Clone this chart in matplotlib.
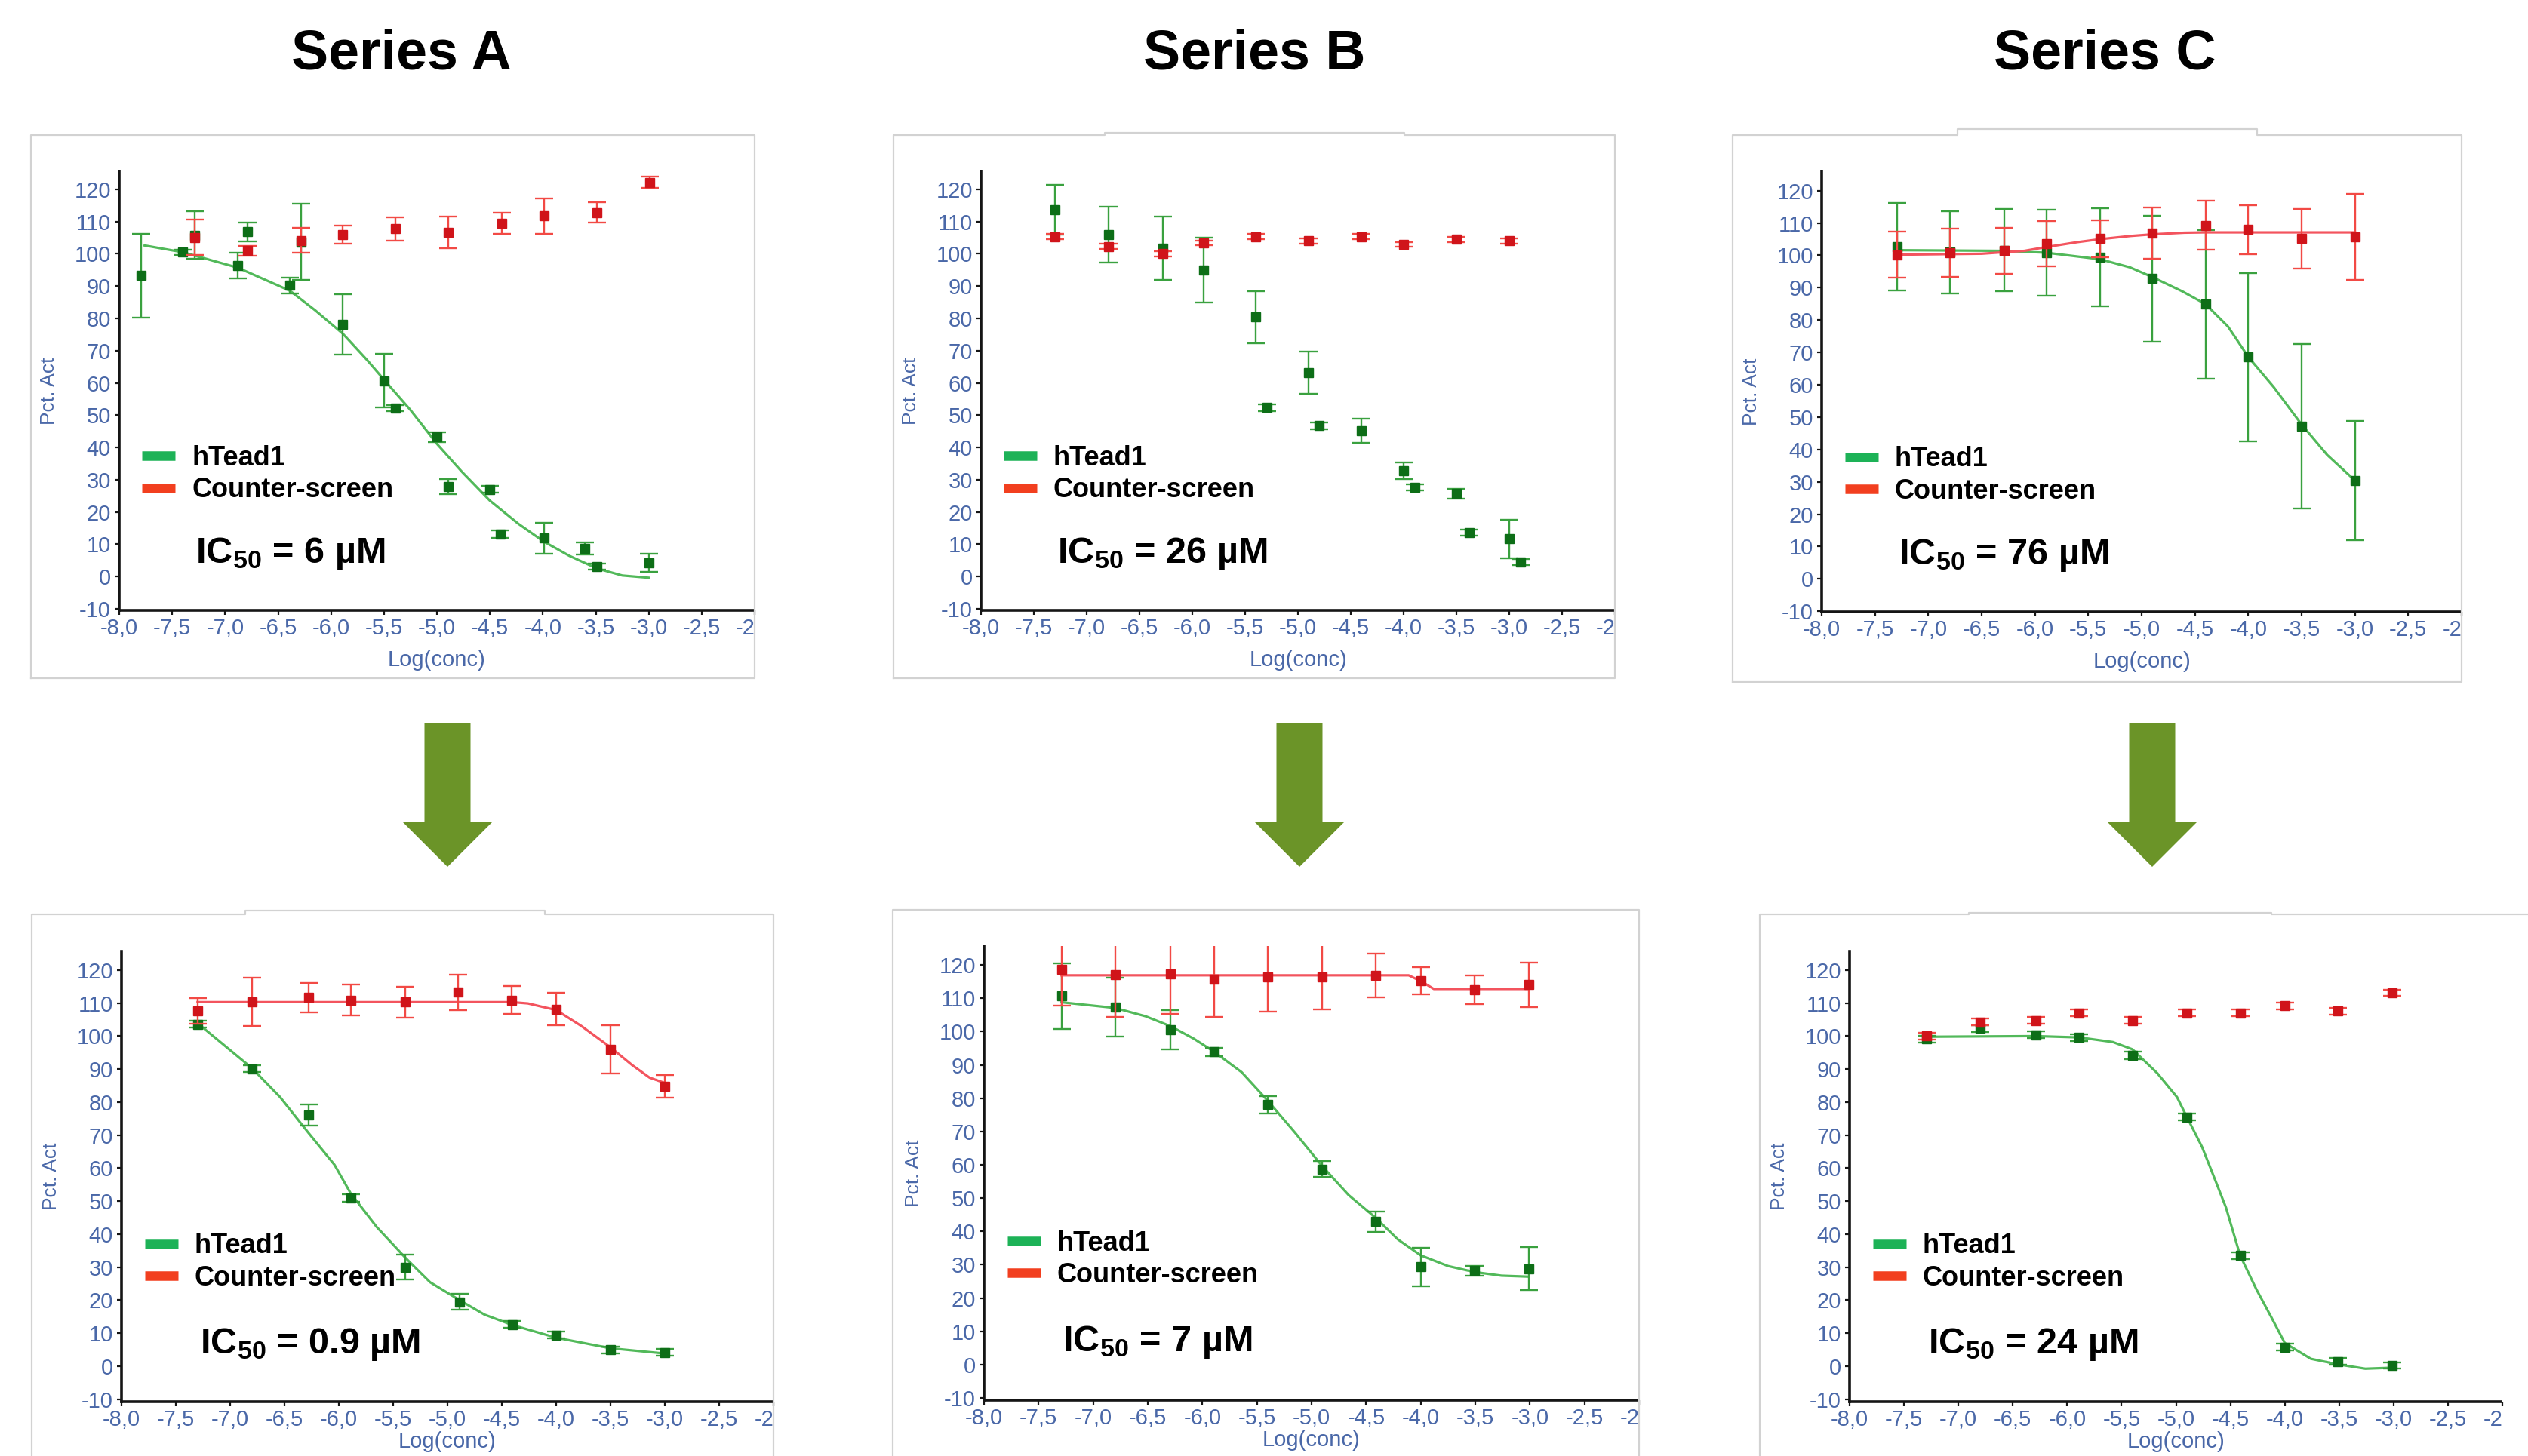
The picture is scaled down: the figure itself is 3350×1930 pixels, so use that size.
import matplotlib
matplotlib.use("Agg")
import matplotlib.pyplot as plt
from matplotlib.lines import Line2D
from matplotlib.patches import Polygon
from matplotlib.transforms import Bbox, TransformedBbox

# ---------------- data ----------------
SERIES_TITLES = ["Series A", "Series B", "Series C"]
LEGEND_LABELS = ["hTead1", "Counter-screen"]
IC50_LABELS = ["6 µM", "26 µM", "76 µM", "0.9 µM", "7 µM", "24 µM"]
X_LABEL = "Log(conc)"
Y_LABEL = "Pct. Act"
XTICKS = [-8.0, -7.5, -7.0, -6.5, -6.0, -5.5, -5.0, -4.5, -4.0, -3.5, -3.0, -2.5, -2.0]
XTICK_LABELS = ["-8,0", "-7,5", "-7,0", "-6,5", "-6,0", "-5,5", "-5,0", "-4,5",
                "-4,0", "-3,5", "-3,0", "-2,5", "-2,0"]
YTICKS = [-10, 0, 10, 20, 30, 40, 50, 60, 70, 80, 90, 100, 110, 120]

# Series A, before (top)
a1_g_x = [-7.79, -7.40, -7.29, -6.88, -6.79, -6.39, -6.28, -5.89, -5.50, -5.39,
          -5.00, -4.89, -4.50, -4.40, -3.99, -3.60, -3.49, -3.00]
a1_g_y = [93.3, 100.5, 105.8, 96.3, 106.8, 90.2, 103.7, 78.1, 60.7, 52.2,
          43.2, 27.9, 27.0, 13.2, 11.9, 8.6, 3.1, 4.2]
a1_g_e = [13.0, 0.8, 7.3, 4.0, 3.0, 2.4, 11.8, 9.3, 8.4, 1.0,
          1.5, 2.3, 1.0, 1.2, 4.8, 1.9, 1.0, 2.8]
a1_g_fit_x = [-7.76, -7.40, -6.88, -6.39, -6.15, -5.89, -5.66, -5.50, -5.25, -5.00,
              -4.76, -4.50, -4.23, -3.99, -3.75, -3.49, -3.25, -3.00]
a1_g_fit_y = [102.6, 100.5, 95.7, 88.6, 82.5, 75.3, 67.1, 61.0, 51.6, 41.1,
              32.3, 23.5, 16.3, 10.8, 6.4, 2.5, 0.3, -0.4]
a1_r_x = [-7.29, -6.79, -6.28, -5.89, -5.39, -4.89, -4.39, -3.99, -3.49, -2.99]
a1_r_y = [105.1, 101.0, 104.2, 106.0, 107.8, 106.7, 109.5, 111.7, 112.8, 122.2]
a1_r_e = [5.5, 1.5, 3.9, 2.8, 3.6, 4.9, 3.3, 5.4, 3.1, 1.8]

# Series B, before (top)
b1_g_x = [-7.30, -6.79, -6.28, -5.89, -5.40, -5.29, -4.90, -4.80, -4.40, -4.00,
          -3.89, -3.50, -3.38, -3.00, -2.89]
b1_g_y = [113.6, 105.9, 101.7, 95.0, 80.4, 52.3, 63.1, 46.7, 45.1, 32.7,
          27.6, 25.7, 13.6, 11.6, 4.5]
b1_g_e = [7.7, 8.7, 9.8, 10.1, 8.1, 1.0, 6.5, 1.0, 3.7, 2.6,
          1.0, 1.5, 1.0, 6.0, 1.0]
b1_r_x = [-7.30, -6.79, -6.28, -5.89, -5.40, -4.90, -4.40, -4.00, -3.50, -3.00]
b1_r_y = [105.3, 102.3, 100.0, 103.4, 105.3, 104.0, 105.3, 102.9, 104.5, 104.0]
b1_r_e = [0.8, 0.8, 0.8, 0.8, 0.8, 0.8, 0.8, 0.8, 0.8, 0.8]

# Series C, before (top)
c1_g_x = [-7.29, -6.80, -6.29, -5.89, -5.39, -4.90, -4.40, -4.00, -3.50, -3.00]
c1_g_y = [102.7, 101.0, 101.6, 100.8, 99.4, 92.8, 84.9, 68.6, 47.1, 30.4]
c1_g_e = [13.6, 12.7, 12.7, 13.2, 15.1, 19.5, 23.0, 26.0, 25.4, 18.5]
c1_g_fit_x = [-7.29, -6.29, -5.89, -5.39, -5.11, -4.90, -4.62, -4.40, -4.19, -4.00,
              -3.76, -3.50, -3.26, -3.00]
c1_g_fit_y = [101.6, 101.4, 100.8, 98.8, 96.3, 93.3, 88.9, 84.9, 78.0, 68.6,
              59.2, 47.7, 38.3, 30.4]
c1_r_x = [-7.29, -6.80, -6.29, -5.89, -5.39, -4.90, -4.40, -4.00, -3.50, -3.00]
c1_r_y = [100.2, 100.8, 101.4, 103.5, 105.2, 106.9, 109.3, 108.0, 105.2, 105.7]
c1_r_e = [7.1, 7.5, 7.2, 7.0, 5.7, 8.0, 7.6, 7.6, 9.2, 13.3]
c1_r_fit_x = [-7.29, -6.50, -6.10, -5.89, -5.60, -5.39, -5.10, -4.90, -4.60, -4.40, -3.00]
c1_r_fit_y = [100.2, 100.5, 101.4, 102.6, 104.1, 105.0, 106.0, 106.5, 107.0, 107.1, 107.1]

# Series A, after (bottom)
a2_g_x = [-7.30, -6.80, -6.28, -5.89, -5.39, -4.89, -4.40, -4.00, -3.50, -3.00]
a2_g_y = [103.6, 90.1, 76.1, 50.9, 30.0, 19.4, 12.6, 9.4, 4.9, 4.1]
a2_g_e = [1.0, 1.0, 3.2, 1.2, 3.8, 2.4, 1.0, 1.0, 1.0, 1.0]
a2_g_fit_x = [-7.30, -6.80, -6.54, -6.28, -6.04, -5.89, -5.65, -5.39, -5.16, -4.89,
              -4.66, -4.40, -4.00, -3.50, -3.00]
a2_g_fit_y = [103.9, 90.3, 81.5, 70.7, 61.0, 52.3, 42.1, 32.9, 25.4, 20.0,
              15.6, 12.4, 8.6, 5.4, 3.8]
a2_r_x = [-7.30, -6.80, -6.28, -5.89, -5.39, -4.90, -4.41, -4.00, -3.50, -3.00]
a2_r_y = [107.6, 110.4, 111.7, 110.9, 110.3, 113.3, 110.9, 108.2, 96.0, 84.7]
a2_r_e = [3.9, 7.3, 4.5, 4.7, 4.7, 5.4, 4.2, 4.9, 7.3, 3.4]
a2_r_fit_x = [-7.30, -4.41, -4.26, -4.00, -3.77, -3.50, -3.30, -3.14, -3.00]
a2_r_fit_y = [110.3, 110.3, 109.9, 107.9, 103.1, 96.6, 91.2, 87.4, 85.8]

# Series B, after (bottom)
b2_g_x = [-7.29, -6.80, -6.29, -5.89, -5.40, -4.90, -4.41, -4.00, -3.51, -3.01]
b2_g_y = [110.7, 107.3, 100.6, 93.9, 78.1, 58.7, 42.9, 29.3, 28.2, 28.8]
b2_g_e = [9.9, 8.8, 5.9, 1.2, 2.6, 2.4, 3.1, 5.8, 1.5, 6.4]
b2_g_fit_x = [-7.29, -6.80, -6.52, -6.29, -6.08, -5.89, -5.64, -5.40, -5.15, -4.90,
              -4.66, -4.41, -4.21, -4.00, -3.75, -3.51, -3.26, -3.01]
b2_g_fit_y = [108.8, 107.1, 104.6, 101.6, 97.9, 93.9, 87.8, 79.2, 69.6, 59.5,
              50.9, 44.0, 37.6, 32.8, 29.6, 27.8, 26.7, 26.4]
b2_r_x = [-7.29, -6.80, -6.29, -5.89, -5.40, -4.90, -4.41, -4.00, -3.51, -3.01]
b2_r_y = [118.7, 117.1, 117.4, 115.7, 116.4, 116.4, 116.9, 115.2, 112.5, 114.1]
b2_r_e = [11.0, 12.8, 12.0, 11.4, 10.5, 9.7, 6.5, 4.1, 4.3, 6.7]
b2_r_fit_x = [-7.29, -4.11, -3.99, -3.88, -3.01]
b2_r_fit_y = [116.9, 116.9, 115.0, 112.8, 112.8]

# Series C, after (bottom)
c2_g_x = [-7.29, -6.80, -6.29, -5.89, -5.40, -4.90, -4.41, -4.00, -3.51, -3.01]
c2_g_y = [99.1, 102.3, 100.4, 99.6, 94.2, 75.5, 33.5, 5.7, 1.4, 0.2]
c2_g_e = [1.0, 1.0, 1.0, 1.0, 1.2, 1.0, 1.0, 1.0, 1.0, 1.0]
c2_g_fit_x = [-7.29, -6.29, -5.89, -5.58, -5.40, -5.17, -4.99, -4.90, -4.76, -4.63,
              -4.54, -4.41, -4.26, -4.12, -4.00, -3.76, -3.51, -3.26, -3.01]
c2_g_fit_y = [99.8, 100.0, 99.6, 98.2, 96.0, 88.7, 81.5, 75.5, 66.4, 55.6,
              48.0, 33.5, 23.2, 14.6, 7.0, 2.2, 0.5, -0.8, -0.5]
c2_r_x = [-7.29, -6.80, -6.29, -5.89, -5.40, -4.90, -4.41, -4.00, -3.51, -3.01]
c2_r_y = [100.0, 104.3, 104.7, 107.0, 104.7, 107.0, 107.0, 109.2, 107.6, 113.1]
c2_r_e = [1.0, 1.0, 1.0, 1.0, 1.0, 1.0, 1.0, 1.0, 1.0, 1.0]

# ---------------- style ----------------
plt.rcParams["font.family"] = ["Liberation Sans", "DejaVu Sans"]
plt.rcParams["mathtext.fontset"] = "custom"
plt.rcParams["mathtext.rm"] = "Liberation Sans:bold"
plt.rcParams["mathtext.it"] = "Liberation Sans:bold"
plt.rcParams["mathtext.bf"] = "Liberation Sans:bold"

AX_BLUE = "#4a68a8"
MK_GREEN = "#0d6e17"
EB_GREEN = "#3aa13f"
FIT_GREEN = "#52b95a"
MK_RED = "#d0141a"
EB_RED = "#f24a45"
FIT_RED = "#f3545e"
LEG_GREEN = "#1db257"
LEG_RED = "#f23f1f"
BOX_GRAY = "#d2d2d2"
ARROW_GREEN = "#6b9428"

W, H = 3350, 1930
fig = plt.figure(figsize=(W / 100, H / 100), dpi=100)


def fx(px):
    return px / W


def fy(py):
    return 1 - py / H


# panels: (data, axes rect px [x0, x1, ytop, ybot], ylim, box outline px)
panels = [
    dict(g=(a1_g_x, a1_g_y, a1_g_e), gfit=(a1_g_fit_x, a1_g_fit_y),
         r=(a1_r_x, a1_r_y, a1_r_e), rfit=None, ic=IC50_LABELS[0],
         rect=(158, 1000, 227, 809), ylim=(-10.5, 125.6), xlab_off=-66,
         box=[(41, 899), (41, 179), (1000, 179), (1000, 899), (41, 899)],
         clip=(41, 179, 1000, 899)),
    dict(g=(b1_g_x, b1_g_y, b1_g_e), gfit=None,
         r=(b1_r_x, b1_r_y, b1_r_e), rfit=None, ic=IC50_LABELS[1],
         rect=(1300, 2140, 227, 809), ylim=(-10.5, 125.6), xlab_off=-66,
         box=[(1184, 899), (1184, 179), (1464, 179), (1464, 176), (1861, 176),
              (1861, 179), (2140, 179), (2140, 899), (1184, 899)],
         clip=(1184, 176, 2140, 899)),
    dict(g=(c1_g_x, c1_g_y, c1_g_e), gfit=(c1_g_fit_x, c1_g_fit_y),
         r=(c1_r_x, c1_r_y, c1_r_e), rfit=(c1_r_fit_x, c1_r_fit_y), ic=IC50_LABELS[2],
         rect=(2414, 3262, 227, 811), ylim=(-10.2, 126.0), xlab_off=-66,
         box=[(2296, 904), (2296, 179), (2594, 179), (2594, 171), (2991, 171),
              (2991, 179), (3262, 179), (3262, 904), (2296, 904)],
         clip=(2296, 171, 3262, 904)),
    dict(g=(a2_g_x, a2_g_y, a2_g_e), gfit=(a2_g_fit_x, a2_g_fit_y),
         r=(a2_r_x, a2_r_y, a2_r_e), rfit=(a2_r_fit_x, a2_r_fit_y), ic=IC50_LABELS[3],
         rect=(161, 1025, 1261, 1858), ylim=(-10.8, 125.7), xlab_off=-53,
         box=[(42, 1935), (42, 1212), (325, 1212), (325, 1207), (722, 1207),
              (722, 1212), (1025, 1212), (1025, 1935)],
         clip=(42, 1207, 1025, 1935)),
    dict(g=(b2_g_x, b2_g_y, b2_g_e), gfit=(b2_g_fit_x, b2_g_fit_y),
         r=(b2_r_x, b2_r_y, b2_r_e), rfit=(b2_r_fit_x, b2_r_fit_y), ic=IC50_LABELS[4],
         rect=(1304, 2172, 1254, 1856), ylim=(-10.7, 125.7), xlab_off=-53,
         box=[(1183, 1935), (1183, 1206), (2172, 1206), (2172, 1935)],
         clip=(1183, 1206, 2172, 1935)),
    dict(g=(c2_g_x, c2_g_y, c2_g_e), gfit=(c2_g_fit_x, c2_g_fit_y),
         r=(c2_r_x, c2_r_y, c2_r_e), rfit=None, ic=IC50_LABELS[5],
         rect=(2451, 3316, 1261, 1858), ylim=(-10.8, 125.7), xlab_off=-53,
         box=[(2332, 1935), (2332, 1212), (2609, 1212), (2609, 1210), (3010, 1210),
              (3010, 1212), (3350, 1212)],
         clip=(2332, 1210, 3316, 1935)),
]

for p in panels:
    # panel frame (picture border)
    bx = [fx(v[0]) for v in p["box"]]
    by = [fy(v[1]) for v in p["box"]]
    fig.add_artist(Line2D(bx, by, color=BOX_GRAY, lw=1.6, transform=fig.transFigure))

    x0, x1, yt, yb = p["rect"]
    ax = fig.add_axes([fx(x0), fy(yb), (x1 - x0) / W, (yb - yt) / H])
    ax.patch.set_alpha(0)
    ax.set_xlim(XTICKS[0], XTICKS[-1])
    ax.set_ylim(*p["ylim"])
    for s in ("top", "right"):
        ax.spines[s].set_visible(False)
    for s in ("left", "bottom"):
        ax.spines[s].set_linewidth(2.6)
        ax.spines[s].set_color("#151515")
    ax.set_xticks(XTICKS)
    ax.set_xticklabels(XTICK_LABELS)
    ax.set_yticks(YTICKS)
    ax.set_yticklabels([str(v) for v in YTICKS])
    ax.tick_params(axis="both", direction="out", length=4, width=1.6,
                   color="#151515", labelcolor=AX_BLUE, labelsize=21)
    ax.tick_params(axis="x", pad=3)
    ax.tick_params(axis="y", pad=4)

    cx0, cy0, cx1, cy1 = p["clip"]
    cb = TransformedBbox(Bbox.from_extents(fx(cx0), fy(cy1), fx(cx1), fy(cy0)),
                         fig.transFigure)
    for lbl in ax.get_xticklabels():
        lbl.set_clip_box(cb)
        lbl.set_clip_on(True)
    ax.spines["bottom"].set_clip_box(cb)

    # data: green (hTead1) then red (counter-screen)
    if p["gfit"] is not None:
        ax.plot(p["gfit"][0], p["gfit"][1], color=FIT_GREEN, lw=2.3, zorder=2)
    gx, gy, ge = p["g"]
    ax.errorbar(gx, gy, yerr=ge, fmt="none", ecolor=EB_GREEN, elinewidth=1.7,
                capsize=8.5, capthick=1.7, zorder=3)
    ax.plot(gx, gy, "s", ms=9, color=MK_GREEN, mec=MK_GREEN, zorder=4)

    if p["rfit"] is not None:
        ax.plot(p["rfit"][0], p["rfit"][1], color=FIT_RED, lw=2.3, zorder=5)
    rx, ry, re = p["r"]
    ax.errorbar(rx, ry, yerr=re, fmt="none", ecolor=EB_RED, elinewidth=1.7,
                capsize=8.5, capthick=1.7, zorder=6)
    ax.plot(rx, ry, "s", ms=9, color=MK_RED, mec=MK_RED, zorder=7)

    # legend
    handles = [Line2D([], [], color=LEG_GREEN, lw=9, solid_capstyle="butt"),
               Line2D([], [], color=LEG_RED, lw=9, solid_capstyle="butt")]
    ax.legend(handles, LEGEND_LABELS, loc="center left", bbox_to_anchor=(0.036, 0.31),
              frameon=False, prop={"weight": "bold", "size": 26},
              handlelength=1.22, handletextpad=0.6, labelspacing=0.2,
              borderpad=0, borderaxespad=0)

    ax.text(0.12, 0.108, r"$\mathrm{IC_{50}}$ = " + p["ic"], transform=ax.transAxes,
            fontsize=35, fontweight="bold", va="baseline", ha="left", color="black")

    ax.annotate(X_LABEL, xy=(0.5, 0), xycoords="axes fraction",
                xytext=(0, p["xlab_off"]),
                textcoords="offset pixels", ha="center", va="center",
                fontsize=21, color=AX_BLUE, annotation_clip=False)
    ax.annotate(Y_LABEL, xy=(0, 0.5), xycoords="axes fraction", xytext=(-93, 0),
                textcoords="offset pixels", ha="center", va="center", rotation=90,
                fontsize=19, color=AX_BLUE, annotation_clip=False)

# titles
for title, cxp in zip(SERIES_TITLES, (532, 1662, 2789)):
    fig.text(fx(cxp), fy(92), title, ha="center", va="baseline",
             fontsize=53, fontweight="bold", color="black")

# down arrows between rows
for cxp in (593, 1722, 2852):
    pts = [(cxp - 30.5, 959), (cxp + 30.5, 959), (cxp + 30.5, 1089), (cxp + 60, 1089),
           (cxp, 1149), (cxp - 60, 1089), (cxp - 30.5, 1089)]
    fig.add_artist(Polygon([(fx(a), fy(b)) for a, b in pts], closed=True,
                           facecolor=ARROW_GREEN, edgecolor="none",
                           transform=fig.transFigure))

fig.savefig("out.png", dpi=100, facecolor="white")
